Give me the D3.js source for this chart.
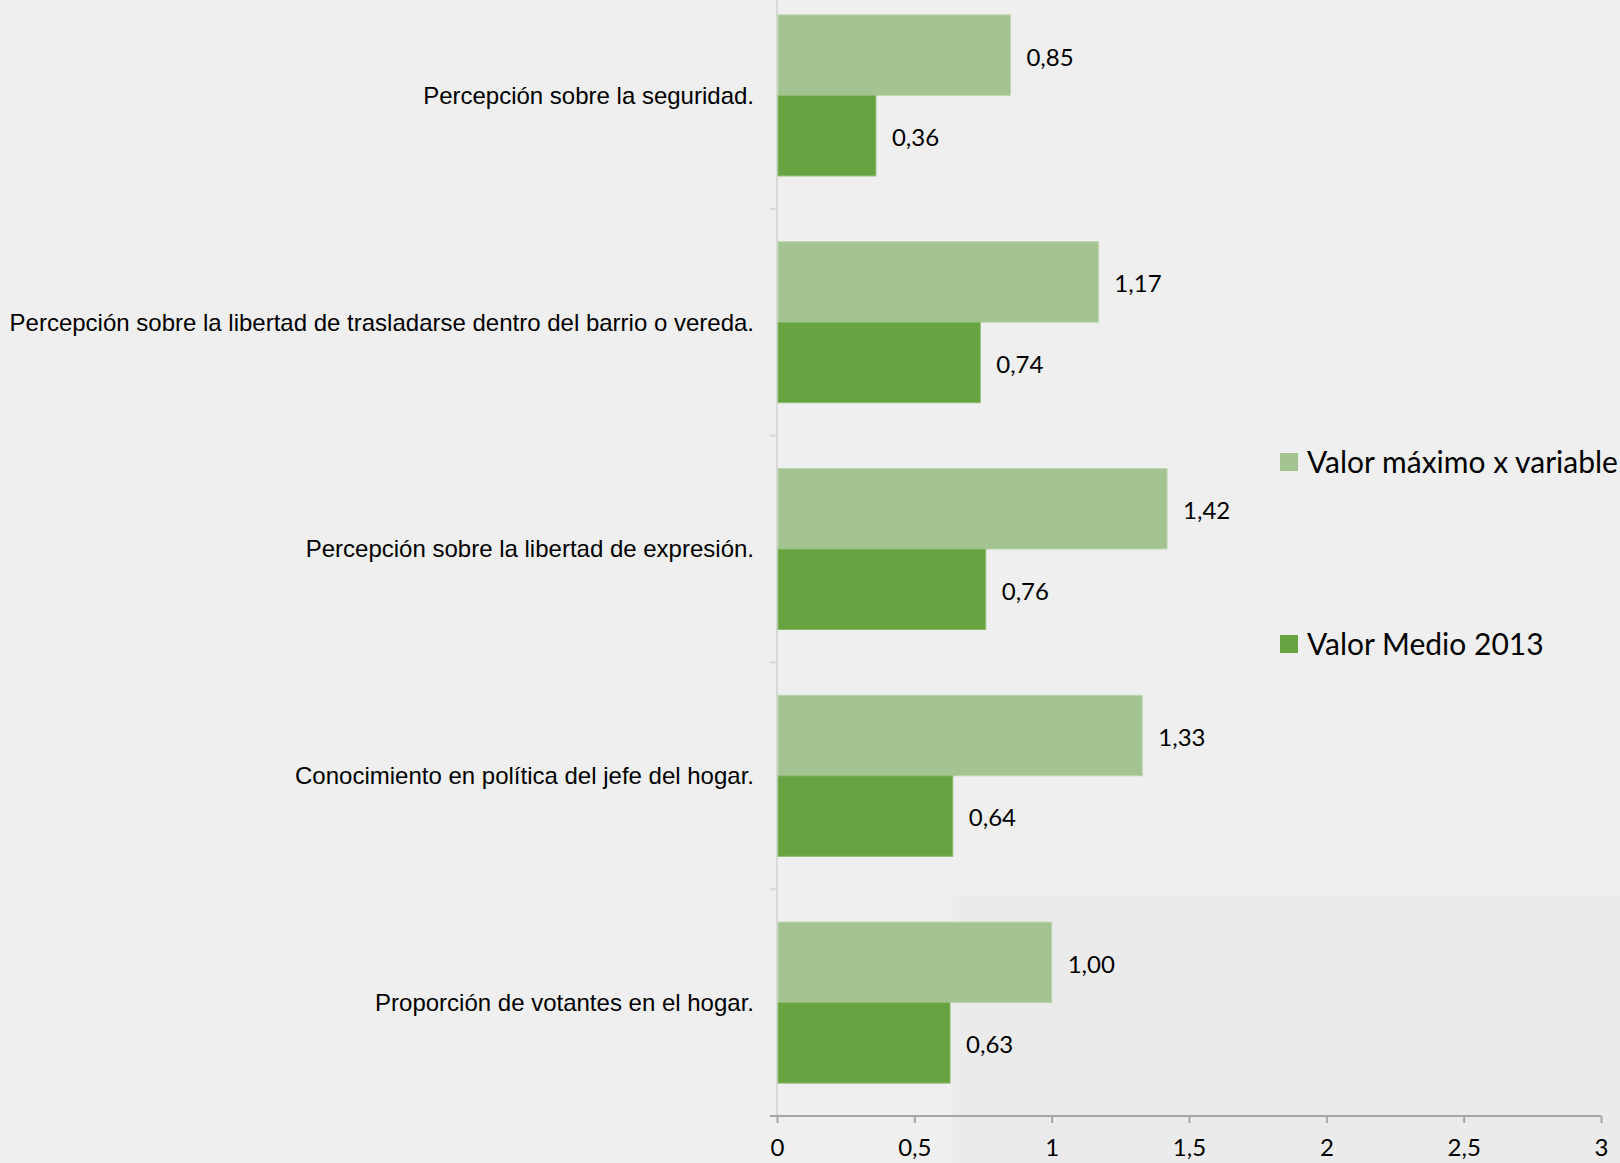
<!DOCTYPE html>
<html>
<head>
<meta charset="utf-8">
<script src="https://cdn.jsdelivr.net/npm/d3@7"></script>
<style>
    html, body { margin: 0; padding: 0; background: #efefef; overflow: hidden; }
    .cat { font-family: "Liberation Sans", Arial, sans-serif; font-size: 24px; fill: #000; }
    .val { font-family: Lato, "Open Sans", sans-serif; font-size: 24px; fill: #000; }
    .leg { font-family: Lato, "Open Sans", sans-serif; font-size: 30px; fill: #000; }
</style>
</head>
<body>
<div id="chart"></div>
<script>
const width = 1620;
const height = 1163;

// categories, top to bottom
const categories = [
    'Percepción sobre la seguridad.',
    'Percepción sobre la libertad de trasladarse dentro del barrio o vereda.',
    'Percepción sobre la libertad de expresión.',
    'Conocimiento en política del jefe del hogar.',
    'Proporción de votantes en el hogar.'
];
const seriesNames = ['Valor máximo x variable', 'Valor Medio 2013'];
const valorMaximo = [0.85, 1.17, 1.42, 1.33, 1.00];
const valorMedio = [0.36, 0.74, 0.76, 0.64, 0.63];
const xTicks = [0, 0.5, 1, 1.5, 2, 2.5, 3];
const colors = ['#a3c490', '#68a342'];

let svg = d3.select('#chart').append('svg')
    .attr('width', width)
    .attr('height', height);

// slightly darker patch at the bottom right of the original
svg.append('rect')
    .attr('x', 953).attr('y', 896)
    .attr('width', width - 953).attr('height', height - 896)
    .attr('fill', '#ebebeb');

const x = d3.scaleLinear().domain([0, 3]).range([777, 1601]);
const y = d3.scaleBand().domain(categories).range([-18, 1116])
    .paddingInner(0.29).paddingOuter(0.145);
const ySeries = d3.scaleBand().domain(seriesNames).range([0, y.bandwidth()]);

let rows = categories.map((c, i) => ({cat: c, values: [valorMaximo[i], valorMedio[i]]}));

// y axis line + ticks between categories
const yAxisG = svg.append('g');
yAxisG.append('line')
    .attr('x1', x(0)).attr('x2', x(0))
    .attr('y1', 0).attr('y2', 1116)
    .attr('stroke', '#d9d9d9').attr('stroke-width', 2);
yAxisG.selectAll('line.tk')
    .data(categories.slice(1))
    .enter().append('line')
    .attr('class', 'tk')
    .attr('x1', x(0) - 7).attr('x2', x(0))
    .attr('y1', d => y(d) - y.step() * y.paddingInner() / 2)
    .attr('y2', d => y(d) - y.step() * y.paddingInner() / 2)
    .attr('stroke', '#d9d9d9').attr('stroke-width', 2);

let group = svg.selectAll('g.row')
    .data(rows)
    .enter().append('g')
    .attr('class', 'row')
    .attr('transform', d => 'translate(0,' + y(d.cat) + ')');

group.selectAll('rect')
    .data(d => d.values.map((v, i) => ({name: seriesNames[i], v: v, i: i})))
    .enter().append('rect')
    .attr('x', x(0) + 1)
    .attr('y', d => ySeries(d.name))
    .attr('width', d => x(d.v) - x(0) - 1)
    .attr('height', ySeries.bandwidth())
    .attr('fill', d => colors[d.i])
    .attr('stroke', d => d.i === 0 ? '#bcd5ad' : '#8cbb70')
    .attr('stroke-width', 1);

group.selectAll('text.val')
    .data(d => d.values.map((v, i) => ({name: seriesNames[i], v: v, i: i})))
    .enter().append('text')
    .attr('class', 'val')
    .attr('x', d => x(d.v) + 16)
    .attr('y', d => ySeries(d.name) + ySeries.bandwidth() / 2 + 2)
    .attr('dy', '.35em')
    .text(d => d3.format('.2f')(d.v).replace('.', ','));

group.append('text')
    .attr('class', 'cat')
    .attr('x', 754)
    .attr('y', y.bandwidth() / 2)
    .attr('dy', '.35em')
    .attr('text-anchor', 'end')
    .text(d => d.cat);

// x axis
const xAxis = d3.axisBottom(x)
    .tickValues(xTicks)
    .tickSize(7)
    .tickPadding(16)
    .tickFormat(d => String(d).replace('.', ','));

let xg = svg.append('g')
    .attr('transform', 'translate(0,1116)')
    .call(xAxis);
xg.select('.domain').attr('stroke', '#a6a6a6').attr('stroke-width', 2)
    .attr('d', 'M' + (x(0) - 7) + ',0H' + x(3));
xg.selectAll('.tick line').attr('stroke', '#a6a6a6').attr('stroke-width', 2);
xg.selectAll('.tick text')
    .attr('font-family', 'Lato, "Open Sans", sans-serif')
    .attr('font-size', 24)
    .attr('fill', '#000');

// legend
let legend = svg.selectAll('g.legend')
    .data(seriesNames)
    .enter().append('g')
    .attr('class', 'legend')
    .attr('transform', (d, i) => 'translate(1280,' + (462 + i * 182) + ')');
legend.append('rect')
    .attr('x', 0).attr('y', -9)
    .attr('width', 18).attr('height', 18)
    .attr('fill', (d, i) => colors[i]);
legend.append('text')
    .attr('class', 'leg')
    .attr('x', 27)
    .attr('y', 0)
    .attr('dy', '.35em')
    .text(d => d);
</script>
</body>
</html>
